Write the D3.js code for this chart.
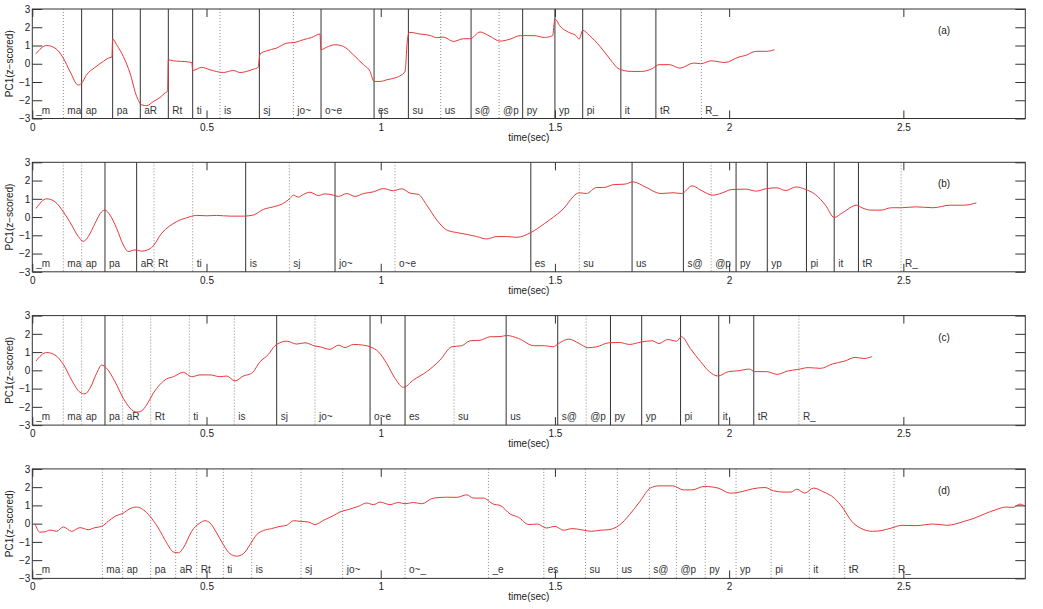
<!DOCTYPE html>
<html>
<head>
<meta charset="utf-8">
<script src="https://cdn.jsdelivr.net/npm/d3@7"></script>
<style>
  body { margin: 0; background: #fff; }
  svg { display: block; font-family: "Liberation Sans", Arial, sans-serif; }
</style>
</head>
<body>
<div id="chart"></div>
<script>
// ============================================
// PC1 trajectories — four utterances (a)-(d)
// ============================================
const xTicks = [0, 0.5, 1, 1.5, 2, 2.5];
const yTicks = [-3, -2, -1, 0, 1, 2, 3];
const panelNames = ['(a)', '(b)', '(c)', '(d)'];

const phonesABC = ['_m','ma','ap','pa','aR','Rt','ti','is','sj','jo~','o~e','es','su','us','s@','@p','py','yp','pi','it','tR','R_'];
const phonesD = ['_m','ma','ap','pa','aR','Rt','ti','is','sj','jo~','o~_','_e','es','su','us','s@','@p','py','yp','pi','it','tR','R_'];

// segment onsets (sec) and boundary style: '-' none, 's' solid, 'd' dotted
const boundsA = [0,0.089,0.1416,0.2306,0.31,0.3904,0.4603,0.5388,0.6517,0.7493,0.8287,0.9809,1.0794,1.1722,1.2593,1.3397,1.4074,1.5,1.5797,1.6892,1.7898,1.9203];
const kindsA  = ['-','d','s','s','s','s','s','d','s','d','s','s','s','d','s','d','s','s','s','s','s','d'];
const boundsB = [0,0.089,0.1416,0.2086,0.2995,0.3493,0.4603,0.6124,0.7378,0.8689,1.0411,1.4308,1.5701,1.7214,1.8687,1.9483,2.0199,2.1095,2.2219,2.3015,2.3711,2.4935];
const kindsB  = ['-','d','d','s','s','d','d','s','d','s','d','s','d','s','s','d','s','s','s','s','s','d'];
const boundsC = [0,0.089,0.1416,0.2086,0.2593,0.3397,0.4507,0.5799,0.7014,0.8115,0.9694,1.0699,1.2105,1.36,1.508,1.5896,1.6594,1.749,1.8606,1.9701,2.0707,2.2002];
const kindsC  = ['-','d','d','s','d','d','d','d','s','d','s','s','d','s','s','d','s','s','s','s','s','d'];
const boundsD = [0,0.201,0.2593,0.3397,0.4115,0.4718,0.5483,0.6297,0.7713,0.8909,1.0699,1.3091,1.4681,1.5876,1.6793,1.7709,1.8486,1.9313,2.0199,2.1205,2.2301,2.3317,2.4731];
const kindsD  = ['-','d','d','d','d','d','d','d','d','d','d','d','d','d','d','d','d','d','d','d','d','d','d'];

// PC1 (z-scored) samples [time, value]
const curveA = [[0.0105,0.55],[0.0411,1.0],[0.0651,0.86],[0.089,0.31],[0.1081,-0.42],[0.1321,-1.17],[0.1416,-1.06],[0.156,-0.6],[0.1799,-0.2],[0.2038,0.13],[0.2182,0.31],[0.2285,0.37],[0.2306,1.35],[0.2421,1.04],[0.2612,0.4],[0.2804,-0.51],[0.2995,-1.79],[0.3139,-2.25],[0.3282,-2.3],[0.3474,-2.07],[0.3665,-1.85],[0.3809,-1.6],[0.3885,-1.5],[0.3904,0.22],[0.4048,0.16],[0.4287,0.13],[0.4478,0.1],[0.458,0.06],[0.4603,-0.37],[0.4861,-0.2],[0.51,-0.33],[0.5483,-0.48],[0.577,-0.37],[0.5962,-0.48],[0.6344,-0.3],[0.648,-0.2],[0.6536,0.53],[0.6727,0.71],[0.7014,0.86],[0.7301,1.13],[0.7541,1.17],[0.778,1.32],[0.8019,1.44],[0.8255,1.63],[0.8287,0.77],[0.845,0.91],[0.8689,1.04],[0.8928,0.95],[0.9215,0.49],[0.9502,-0.05],[0.9694,-0.42],[0.9809,-0.97],[0.9981,-0.97],[1.0172,-0.88],[1.0364,-0.8],[1.0555,-0.66],[1.0699,-0.42],[1.0766,1.32],[1.0823,1.72],[1.1129,1.63],[1.1416,1.55],[1.1608,1.43],[1.1799,1.46],[1.2086,1.22],[1.2373,1.37],[1.2565,1.37],[1.2852,1.74],[1.3139,1.5],[1.3426,1.24],[1.3713,1.35],[1.4004,1.54],[1.4402,1.54],[1.4701,1.44],[1.4935,1.54],[1.5,2.45],[1.5149,2.05],[1.5398,1.72],[1.5598,1.55],[1.5697,1.35],[1.5797,1.83],[1.5996,1.54],[1.6295,0.95],[1.6594,0.22],[1.6843,-0.29],[1.7191,-0.42],[1.749,-0.42],[1.7789,-0.27],[1.7988,-0.05],[1.8287,-0.05],[1.8586,-0.24],[1.8984,0.04],[1.9183,0],[1.9482,0.16],[1.988,0.07],[2.0279,0.37],[2.0478,0.46],[2.0777,0.68],[2.1076,0.68],[2.1305,0.77]];
const curveB = [[0.0105,0.47],[0.0411,1.0],[0.0651,0.84],[0.089,0.29],[0.1129,-0.44],[0.1321,-1.07],[0.1464,-1.33],[0.1608,-1.07],[0.1799,-0.35],[0.199,0.29],[0.2086,0.38],[0.223,0.11],[0.2421,-0.62],[0.2612,-1.53],[0.2756,-1.89],[0.2947,-1.8],[0.3139,-1.87],[0.3426,-1.67],[0.3713,-0.89],[0.4144,-0.25],[0.4431,-0.04],[0.4718,0.09],[0.5005,0.07],[0.5292,0.09],[0.5675,0.05],[0.6057,0.05],[0.6344,0.11],[0.6632,0.42],[0.6919,0.56],[0.7206,0.75],[0.7397,1.02],[0.7493,1.2],[0.7636,1.09],[0.778,1.24],[0.7971,1.36],[0.8211,1.18],[0.8402,1.27],[0.8641,1.2],[0.8785,1.13],[0.9024,1.29],[0.9263,1.13],[0.9502,1.29],[0.9789,1.38],[1.0077,1.56],[1.0364,1.44],[1.0603,1.55],[1.0842,1.31],[1.1081,1.24],[1.1321,0.65],[1.1608,-0.16],[1.1895,-0.71],[1.2182,-0.85],[1.2469,-0.95],[1.2756,-1.07],[1.3043,-1.2],[1.333,-1.07],[1.3617,-1.07],[1.391,-1.11],[1.4308,-0.85],[1.4706,-0.35],[1.5204,0.38],[1.5701,1.33],[1.59,1.29],[1.6199,1.62],[1.6398,1.62],[1.6697,1.78],[1.6995,1.8],[1.7244,1.93],[1.7592,1.65],[1.804,1.29],[1.8388,1.33],[1.8637,1.29],[1.8935,1.71],[1.9234,1.42],[1.9532,1.2],[1.9781,1.31],[2.008,1.51],[2.0478,1.53],[2.0776,1.42],[2.1075,1.56],[2.1373,1.6],[2.1622,1.45],[2.192,1.65],[2.2169,1.53],[2.2468,1.24],[2.2766,0.65],[2.3015,-0.02],[2.3264,0.25],[2.3662,0.65],[2.3811,0.51],[2.406,0.38],[2.4358,0.38],[2.4657,0.51],[2.4955,0.51],[2.5353,0.56],[2.5851,0.51],[2.6348,0.65],[2.6746,0.65],[2.7095,0.78]];
const curveC = [[0.0105,0.51],[0.0411,0.98],[0.0651,0.84],[0.089,0.33],[0.1129,-0.53],[0.1368,-1.2],[0.1512,-1.29],[0.1656,-0.98],[0.1847,-0.16],[0.199,0.29],[0.2134,0.11],[0.2373,-0.62],[0.2612,-1.53],[0.2804,-2.07],[0.2995,-2.29],[0.3139,-2.22],[0.3282,-1.89],[0.3474,-1.25],[0.3856,-0.47],[0.4048,-0.35],[0.4335,-0.11],[0.4574,-0.35],[0.4813,-0.25],[0.51,-0.25],[0.5388,-0.35],[0.5579,-0.31],[0.5818,-0.58],[0.6057,-0.31],[0.6297,-0.16],[0.6536,0.47],[0.6775,0.87],[0.6967,1.35],[0.7301,1.6],[0.7589,1.44],[0.7828,1.51],[0.8115,1.33],[0.8258,1.29],[0.8545,1.15],[0.8785,1.38],[0.8976,1.25],[0.9215,1.42],[0.9502,1.38],[0.9694,1.29],[0.9933,1.02],[1.0172,0.38],[1.0411,-0.44],[1.0651,-0.93],[1.0938,-0.53],[1.1321,-0.07],[1.1703,0.56],[1.2038,1.29],[1.2325,1.35],[1.2565,1.62],[1.2852,1.65],[1.3139,1.84],[1.3426,1.85],[1.3617,1.91],[1.3952,1.75],[1.4402,1.35],[1.4701,1.35],[1.495,1.29],[1.51,1.47],[1.5398,1.71],[1.5697,1.47],[1.5946,1.24],[1.6195,1.29],[1.6544,1.51],[1.6843,1.53],[1.7141,1.42],[1.749,1.56],[1.7789,1.62],[1.7988,1.47],[1.8237,1.69],[1.8486,1.6],[1.8635,1.84],[1.8884,1.2],[1.9183,0.47],[1.9432,-0.07],[1.9681,-0.31],[1.998,-0.07],[2.0279,-0.02],[2.0578,0.07],[2.0727,-0.07],[2.1076,-0.07],[2.1375,-0.22],[2.1673,-0.04],[2.1972,0.05],[2.2271,0.15],[2.262,0.11],[2.2968,0.35],[2.3317,0.51],[2.3616,0.71],[2.3865,0.65],[2.4094,0.75]];
const curveD = [[0.0077,0],[0.022,-0.47],[0.0364,-0.45],[0.0507,-0.35],[0.0699,-0.42],[0.089,-0.18],[0.1129,-0.42],[0.1368,-0.22],[0.1608,-0.33],[0.1799,-0.22],[0.199,-0.15],[0.2182,0.13],[0.2373,0.4],[0.2612,0.58],[0.2804,0.82],[0.2995,0.91],[0.3187,0.76],[0.3378,0.4],[0.3617,-0.24],[0.3856,-1.05],[0.4048,-1.55],[0.4191,-1.6],[0.4335,-1.33],[0.4574,-0.42],[0.4813,0.04],[0.4957,0.16],[0.51,0.04],[0.5292,-0.51],[0.5483,-1.15],[0.5675,-1.65],[0.5866,-1.78],[0.6057,-1.65],[0.6249,-1.15],[0.644,-0.6],[0.6632,-0.38],[0.6871,-0.27],[0.711,-0.15],[0.7301,-0.09],[0.7493,0.16],[0.7684,0.13],[0.7923,0.09],[0.8115,-0.05],[0.8354,0.18],[0.8641,0.44],[0.8833,0.64],[0.912,0.8],[0.9359,0.95],[0.9598,1.13],[0.9789,1.04],[0.9981,1.18],[1.0268,1.04],[1.0507,1.16],[1.0699,1.09],[1.0938,1.16],[1.1177,1.09],[1.1512,1.4],[1.1895,1.45],[1.2182,1.44],[1.2469,1.58],[1.266,1.4],[1.2947,1.4],[1.3234,1.07],[1.3426,1.0],[1.3713,0.53],[1.3952,0.35],[1.4253,-0.05],[1.4502,-0.02],[1.4751,-0.24],[1.5,-0.15],[1.5249,-0.36],[1.5498,-0.27],[1.5797,-0.35],[1.6046,-0.42],[1.6295,-0.36],[1.6544,-0.33],[1.6843,-0.09],[1.7141,0.49],[1.744,1.22],[1.7739,1.95],[1.7988,2.07],[1.8386,2.07],[1.8685,1.85],[1.8934,1.85],[1.9283,2.04],[1.9681,1.95],[2.003,1.67],[2.0378,1.76],[2.0677,1.91],[2.1026,1.98],[2.1275,1.8],[2.1574,1.73],[2.1773,1.73],[2.1942,1.89],[2.2171,1.67],[2.242,1.95],[2.2719,1.73],[2.3018,1.4],[2.3267,0.85],[2.3516,0.13],[2.3765,-0.24],[2.4114,-0.42],[2.4363,-0.38],[2.4661,-0.24],[2.496,-0.09],[2.5359,-0.11],[2.5857,-0.02],[2.6255,-0.09],[2.6753,0.13],[2.7052,0.31],[2.735,0.55],[2.7649,0.76],[2.7948,0.91],[2.8147,0.89],[2.8347,1.07],[2.85,0.95]];

const panels = [
    { name: panelNames[0], phones: phonesABC, bounds: boundsA, kinds: kindsA, curve: curveA },
    { name: panelNames[1], phones: phonesABC, bounds: boundsB, kinds: kindsB, curve: curveB },
    { name: panelNames[2], phones: phonesABC, bounds: boundsC, kinds: kindsC, curve: curveC },
    { name: panelNames[3], phones: phonesD,   bounds: boundsD, kinds: kindsD, curve: curveD }
];

// Layout
const width = 1043, height = 609;
const left = 32.3, right = 1025.3;
const top0 = 9, step = 153.3, panelH = 109.5;

const svg = d3.select('#chart')
    .append('svg')
    .attr('width', width)
    .attr('height', height);

const x = d3.scaleLinear().domain([0, 2.85]).range([left, right]);
const minus = d => d < 0 ? '\u2212' + Math.abs(d) : String(d);

panels.forEach((p, i) => {
    const top = top0 + i * step;
    const bottom = top + panelH;
    const y = d3.scaleLinear().domain([-3, 3]).range([bottom, top]);
    const g = svg.append('g');

    // Segment boundaries
    g.selectAll('.bound')
        .data(p.bounds.filter((b, j) => p.kinds[j] !== '-').map(b => ({ t: b, k: p.kinds[p.bounds.indexOf(b)] })))
        .enter()
        .append('line')
        .attr('x1', d => x(d.t)).attr('x2', d => x(d.t))
        .attr('y1', top).attr('y2', bottom)
        .attr('stroke', d => d.k === 's' ? '#333' : '#8a8a8a')
        .attr('stroke-width', 1)
        .attr('stroke-dasharray', d => d.k === 's' ? null : '1,2');

    // Phone labels
    g.selectAll('.phone')
        .data(p.phones)
        .enter()
        .append('text')
        .attr('x', (d, j) => x(p.bounds[j]) + 4)
        .attr('y', bottom - 5)
        .attr('font-size', 10)
        .attr('fill', '#333')
        .text(d => d);

    // Axes (Matlab-like box with inward ticks)
    const styleAxis = sel => {
        sel.select('.domain').remove();
        sel.selectAll('line').attr('stroke', '#333');
        sel.selectAll('text').attr('font-size', 10).attr('fill', '#222')
            .attr('font-family', '"Liberation Sans", Arial, sans-serif');
    };
    g.append('g').attr('transform', `translate(0,${bottom})`)
        .call(d3.axisBottom(x).tickValues(xTicks).tickSize(-8).tickPadding(5).tickFormat(String))
        .call(styleAxis);
    g.append('g').attr('transform', `translate(0,${top})`)
        .call(d3.axisTop(x).tickValues(xTicks).tickSize(-8).tickFormat(''))
        .call(styleAxis);
    g.append('g').attr('transform', `translate(${left},0)`)
        .call(d3.axisLeft(y).tickValues(yTicks).tickSize(-10).tickPadding(2).tickFormat(minus))
        .call(styleAxis);
    g.append('g').attr('transform', `translate(${right},0)`)
        .call(d3.axisRight(y).tickValues(yTicks).tickSize(-10).tickFormat(''))
        .call(styleAxis);

    g.append('rect')
        .attr('x', left).attr('y', top)
        .attr('width', right - left).attr('height', panelH)
        .attr('fill', 'none')
        .attr('stroke', '#333')
        .attr('stroke-width', 1);

    // PC1 trajectory
    g.append('path')
        .datum(p.curve)
        .attr('fill', 'none')
        .attr('stroke', '#e8383a')
        .attr('stroke-width', 1)
        .attr('d', d3.line()
            .x(d => x(d[0]))
            .y(d => y(d[1]))
            .curve(d3.curveMonotoneX));

    // Titles
    g.append('text')
        .attr('x', (left + right) / 2)
        .attr('y', bottom + 22)
        .attr('text-anchor', 'middle')
        .attr('font-size', 10)
        .attr('fill', '#222')
        .text('time(sec)');

    g.append('text')
        .attr('transform', `translate(13,${(top + bottom) / 2}) rotate(-90)`)
        .attr('text-anchor', 'middle')
        .attr('font-size', 10)
        .attr('fill', '#222')
        .text('PC1(z\u2212scored)');

    g.append('text')
        .attr('x', 944)
        .attr('y', top + 25)
        .attr('text-anchor', 'middle')
        .attr('font-size', 10)
        .attr('fill', '#222')
        .text(p.name);
});
</script>
</body>
</html>
